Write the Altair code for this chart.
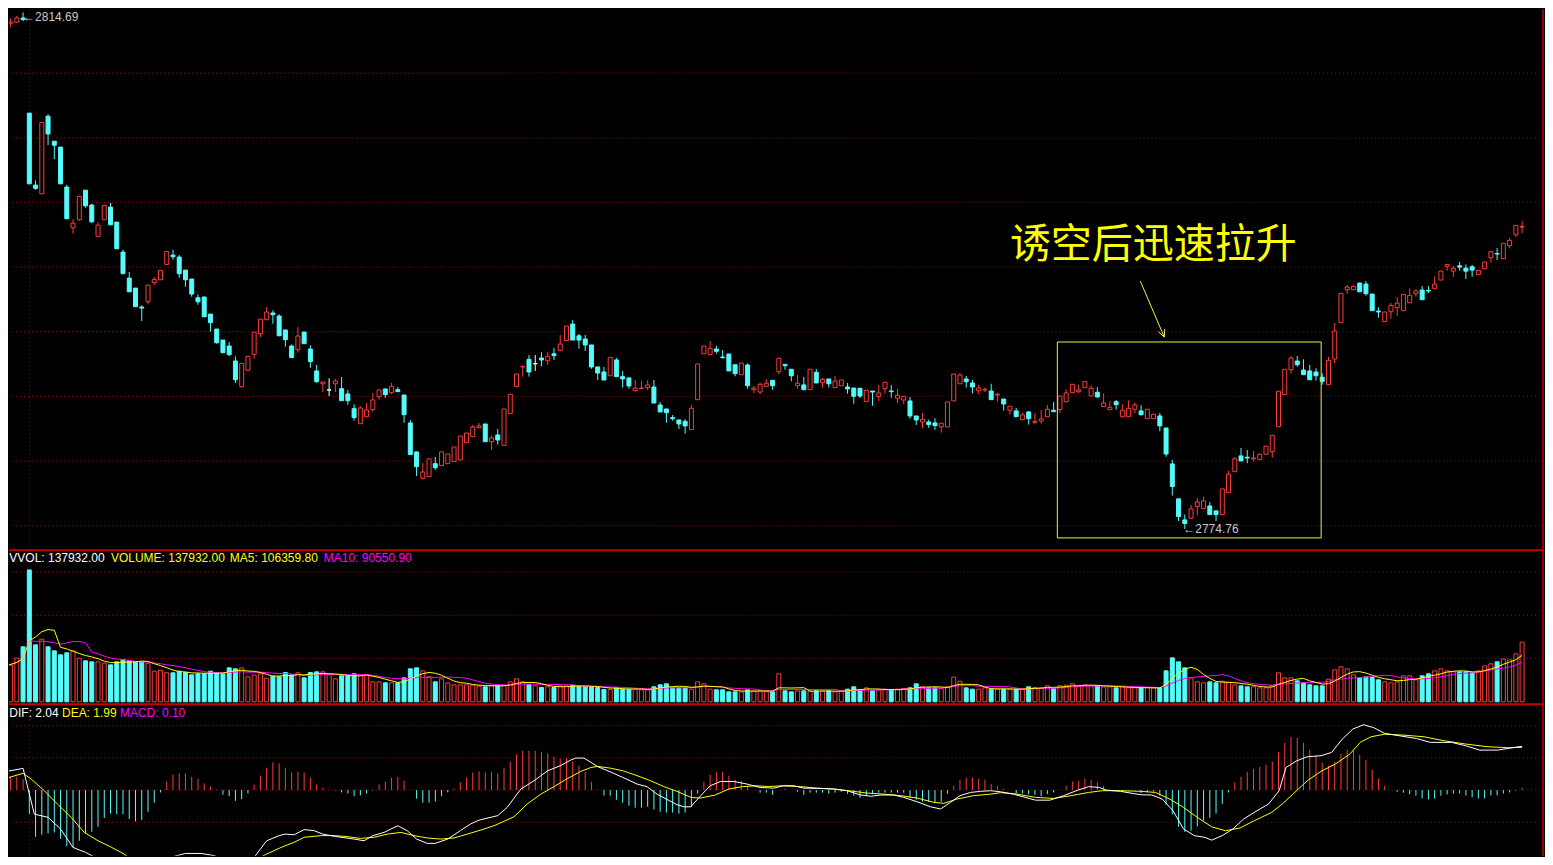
import altair as alt
import pandas as pd

# ---------------- data ----------------
OPEN = [
    2813.30, 2813.86, 2813.94, 2814.27, 2806.91, 2801.34, 2800.67, 2806.67, 2804.74, 2804.28,
    2801.19, 2798.04, 2798.66, 2800.95, 2799.80, 2797.38, 2798.66, 2799.64, 2798.48, 2796.16,
    2794.15, 2793.38, 2791.91, 2792.32, 2793.79, 2794.02, 2795.21, 2795.93, 2795.78, 2794.77,
    2794.08, 2792.63, 2792.69, 2791.37, 2790.21, 2789.36, 2788.90, 2787.74, 2785.75, 2787.02,
    2788.26, 2789.85, 2790.93, 2791.45, 2791.22, 2790.14, 2788.90, 2788.61, 2789.98, 2788.67,
    2786.97, 2785.98, 2785.50, 2785.98, 2785.60, 2785.19, 2784.05, 2782.89, 2783.43, 2783.98,
    2784.98, 2785.58, 2785.29, 2785.52, 2785.11, 2782.95, 2780.71, 2778.67, 2778.80, 2779.80,
    2779.65, 2779.80, 2779.96, 2780.09, 2781.43, 2781.89, 2782.58, 2782.87, 2781.50, 2782.02,
    2781.22, 2783.67, 2785.75, 2787.28, 2787.87, 2787.53, 2787.97, 2787.76, 2788.30, 2788.54,
    2789.31, 2790.60, 2789.69, 2789.44, 2788.98, 2787.28, 2786.89, 2786.60, 2787.82, 2786.53,
    2786.43, 2785.44, 2785.60, 2785.68, 2785.73, 2784.34, 2784.03, 2783.36, 2783.18, 2783.08,
    2782.43, 2784.75, 2788.30, 2788.23, 2788.67, 2788.05, 2788.28, 2787.45, 2786.68, 2787.43,
    2785.52, 2785.34, 2785.78, 2786.25, 2786.91, 2787.48, 2787.10, 2785.83, 2785.89, 2785.52,
    2786.87, 2786.06, 2786.35, 2785.68, 2785.83, 2785.73, 2785.65, 2785.63, 2784.59, 2785.42,
    2784.98, 2785.60, 2785.42, 2784.86, 2784.72, 2784.65, 2783.49, 2783.02, 2783.02, 2782.95,
    2782.64, 2782.64, 2784.65, 2785.98, 2786.35, 2786.04, 2785.44, 2785.50, 2785.42, 2785.11,
    2784.80, 2783.93, 2783.88, 2783.20, 2783.80, 2783.00, 2783.10, 2783.43, 2783.93, 2783.98,
    2784.59, 2785.29, 2785.37, 2785.68, 2785.03, 2785.32, 2784.21, 2783.98, 2784.59, 2783.43,
    2783.43, 2784.01, 2783.88, 2783.28, 2783.28, 2783.49, 2782.56, 2779.78, 2777.08, 2775.45,
    2775.58, 2776.48, 2776.33, 2776.53, 2776.15, 2775.86, 2777.56, 2779.18, 2780.40, 2780.30,
    2780.17, 2780.11, 2780.53, 2780.73, 2782.66, 2785.14, 2787.07, 2787.74, 2787.04, 2786.97,
    2786.89, 2786.48, 2785.91, 2787.89, 2790.70, 2793.25, 2793.25, 2793.77, 2793.69, 2792.92,
    2791.60, 2790.78, 2791.55, 2791.86, 2791.63, 2792.24, 2792.94, 2793.23, 2793.20, 2793.33,
    2794.00, 2795.06, 2794.69, 2795.10, 2794.92, 2795.03, 2794.41, 2794.87, 2795.72, 2796.05,
    2795.65, 2796.65, 2797.50, 2798.09,
]

CLOSE = [
    2813.86, 2813.96, 2814.27, 2814.15, 2801.44, 2801.09, 2806.19, 2805.30, 2804.43, 2801.44,
    2798.74, 2798.40, 2800.47, 2799.74, 2798.50, 2798.25, 2799.77, 2798.27, 2796.42, 2794.49,
    2793.09, 2791.94, 2791.83, 2793.61, 2794.05, 2794.75, 2796.22, 2795.80, 2794.49, 2794.02,
    2792.92, 2792.32, 2791.16, 2790.70, 2789.15, 2788.38, 2788.23, 2786.29, 2787.56, 2788.10,
    2789.96, 2790.98, 2791.53, 2791.32, 2789.69, 2789.39, 2788.00, 2789.67, 2789.08, 2787.69,
    2786.14, 2786.12, 2785.50, 2786.19, 2784.67, 2784.67, 2783.36, 2784.11, 2783.95, 2784.73,
    2785.50, 2785.14, 2785.78, 2785.37, 2783.59, 2780.50, 2779.57, 2779.16, 2780.17, 2779.49,
    2780.71, 2780.55, 2781.09, 2781.94, 2782.17, 2782.64, 2782.72, 2781.50, 2781.79, 2781.63,
    2784.03, 2785.17, 2786.73, 2787.33, 2786.89, 2787.53, 2787.82, 2788.10, 2788.15, 2789.05,
    2790.44, 2789.36, 2789.36, 2788.98, 2787.28, 2786.81, 2786.27, 2788.02, 2786.53, 2786.35,
    2785.81, 2785.65, 2785.65, 2785.89, 2784.49, 2783.80, 2783.74, 2783.28, 2782.87, 2782.72,
    2784.08, 2787.51, 2788.90, 2788.72, 2788.49, 2788.00, 2786.97, 2786.76, 2787.58, 2785.83,
    2785.65, 2785.94, 2786.02, 2785.83, 2787.95, 2787.38, 2786.60, 2786.02, 2785.52, 2787.10,
    2786.04, 2786.32, 2785.98, 2786.19, 2786.27, 2785.58, 2785.01, 2785.03, 2785.47, 2785.34,
    2785.27, 2786.09, 2785.37, 2785.09, 2785.01, 2783.49, 2783.18, 2783.23, 2782.82, 2782.74,
    2782.92, 2784.57, 2786.73, 2786.66, 2786.14, 2785.73, 2785.65, 2785.55, 2784.75, 2785.17,
    2784.42, 2784.24, 2783.43, 2783.57, 2783.28, 2783.08, 2783.26, 2784.01, 2783.82, 2785.03,
    2785.27, 2785.94, 2785.50, 2786.14, 2785.63, 2784.96, 2784.49, 2784.16, 2784.36, 2783.93,
    2784.08, 2784.34, 2783.59, 2784.01, 2783.62, 2782.72, 2780.55, 2778.03, 2775.71, 2775.17,
    2776.30, 2776.84, 2776.92, 2775.86, 2775.86, 2777.85, 2778.98, 2780.17, 2780.01, 2780.24,
    2780.24, 2780.53, 2781.15, 2781.99, 2785.40, 2787.10, 2787.97, 2787.45, 2786.68, 2786.29,
    2786.60, 2786.17, 2787.79, 2790.06, 2792.97, 2793.46, 2793.51, 2793.09, 2792.94, 2791.63,
    2791.53, 2791.53, 2792.04, 2792.22, 2792.89, 2792.82, 2793.15, 2792.48, 2793.15, 2793.69,
    2794.69, 2795.21, 2794.90, 2795.00, 2794.69, 2794.77, 2794.75, 2795.39, 2796.19, 2796.01,
    2796.84, 2797.07, 2798.23, 2798.15,
]

HIGH = [
    2814.09, 2814.25, 2814.42, 2814.69, 2806.91, 2801.70, 2806.19, 2806.83, 2804.74, 2804.28,
    2801.36, 2798.69, 2800.47, 2800.95, 2799.90, 2798.46, 2799.77, 2799.97, 2798.48, 2796.34,
    2794.62, 2793.38, 2792.04, 2793.61, 2794.23, 2794.75, 2796.22, 2796.34, 2795.93, 2794.77,
    2794.08, 2792.89, 2792.69, 2791.37, 2790.21, 2789.36, 2789.21, 2788.10, 2787.56, 2788.10,
    2789.96, 2790.98, 2791.91, 2791.66, 2791.35, 2790.14, 2789.03, 2790.37, 2789.98, 2788.95,
    2787.43, 2786.12, 2786.40, 2786.35, 2786.50, 2785.50, 2784.39, 2784.24, 2784.49, 2785.27,
    2785.50, 2785.58, 2786.04, 2785.73, 2785.11, 2783.18, 2780.71, 2779.86, 2780.17, 2780.32,
    2780.71, 2780.55, 2781.09, 2781.94, 2782.17, 2782.79, 2782.95, 2782.87, 2781.94, 2782.48,
    2784.03, 2785.17, 2786.73, 2787.33, 2788.20, 2788.20, 2788.41, 2788.43, 2788.74, 2789.75,
    2790.44, 2790.91, 2789.85, 2789.75, 2788.98, 2787.28, 2787.28, 2788.02, 2787.97, 2786.97,
    2786.43, 2786.27, 2786.19, 2786.25, 2786.27, 2784.57, 2784.03, 2783.57, 2783.18, 2783.23,
    2784.34, 2787.51, 2788.90, 2789.29, 2788.92, 2788.59, 2788.28, 2787.45, 2787.58, 2787.56,
    2785.81, 2786.06, 2786.32, 2786.25, 2787.95, 2787.48, 2787.10, 2786.66, 2786.50, 2787.10,
    2787.12, 2786.43, 2786.35, 2786.58, 2786.27, 2786.04, 2785.65, 2785.63, 2785.47, 2785.42,
    2785.89, 2786.09, 2785.89, 2785.58, 2785.01, 2784.96, 2783.49, 2783.72, 2783.20, 2783.31,
    2782.92, 2784.57, 2786.73, 2786.81, 2786.58, 2786.27, 2785.89, 2785.68, 2785.98, 2785.29,
    2784.80, 2784.24, 2784.11, 2783.74, 2783.88, 2783.72, 2783.95, 2784.34, 2784.57, 2785.03,
    2785.55, 2785.94, 2785.89, 2786.14, 2785.86, 2785.71, 2785.24, 2784.62, 2784.72, 2784.39,
    2784.70, 2784.52, 2784.32, 2784.01, 2783.62, 2783.72, 2782.56, 2780.09, 2777.08, 2775.86,
    2776.61, 2777.15, 2777.25, 2776.82, 2776.15, 2777.85, 2779.24, 2780.30, 2781.02, 2780.86,
    2780.78, 2780.53, 2781.15, 2781.99, 2785.40, 2787.10, 2788.13, 2788.13, 2787.87, 2787.43,
    2787.18, 2786.79, 2788.05, 2790.68, 2792.97, 2793.61, 2793.59, 2793.77, 2793.92, 2792.92,
    2791.89, 2791.53, 2792.22, 2792.69, 2792.89, 2793.36, 2793.28, 2793.54, 2793.54, 2794.28,
    2794.69, 2795.21, 2795.10, 2795.39, 2795.21, 2795.16, 2794.75, 2795.39, 2796.19, 2796.47,
    2796.84, 2797.27, 2798.23, 2798.56,
]

LOW = [
    2813.24, 2813.55, 2813.91, 2814.01, 2801.44, 2800.98, 2800.67, 2804.43, 2803.35, 2801.44,
    2798.74, 2797.58, 2798.58, 2799.59, 2798.43, 2797.38, 2798.66, 2798.27, 2796.42, 2794.49,
    2793.09, 2791.94, 2790.83, 2792.12, 2793.61, 2794.02, 2795.21, 2795.57, 2794.18, 2793.48,
    2792.71, 2792.09, 2791.16, 2790.00, 2789.08, 2788.38, 2788.13, 2786.04, 2785.68, 2787.02,
    2787.92, 2789.59, 2790.93, 2790.62, 2789.69, 2788.84, 2788.00, 2788.38, 2789.08, 2787.22,
    2786.06, 2785.34, 2785.03, 2785.34, 2784.67, 2784.36, 2783.13, 2782.89, 2783.43, 2783.82,
    2784.75, 2784.90, 2785.17, 2785.37, 2782.97, 2780.50, 2778.85, 2778.57, 2778.80, 2779.32,
    2779.65, 2779.80, 2779.96, 2780.09, 2781.43, 2781.89, 2782.58, 2781.50, 2780.88, 2781.27,
    2781.22, 2783.67, 2785.75, 2786.53, 2786.53, 2786.97, 2787.33, 2787.43, 2787.82, 2788.54,
    2789.31, 2789.36, 2788.69, 2788.51, 2787.14, 2786.27, 2786.27, 2786.60, 2786.53, 2785.68,
    2785.60, 2785.44, 2785.60, 2785.50, 2784.49, 2783.80, 2782.97, 2783.13, 2782.48, 2782.12,
    2782.43, 2784.75, 2788.30, 2788.23, 2788.30, 2787.92, 2786.97, 2786.56, 2786.68, 2785.60,
    2785.24, 2785.17, 2785.78, 2785.52, 2786.71, 2787.07, 2786.17, 2785.60, 2785.52, 2785.52,
    2786.04, 2785.68, 2785.68, 2785.68, 2785.83, 2785.21, 2784.44, 2784.88, 2784.59, 2784.28,
    2784.65, 2785.21, 2784.90, 2784.49, 2784.42, 2783.28, 2782.79, 2782.54, 2782.58, 2782.41,
    2782.20, 2782.64, 2784.65, 2785.98, 2785.68, 2785.24, 2785.17, 2785.34, 2784.75, 2784.59,
    2783.90, 2783.59, 2783.43, 2783.20, 2782.82, 2782.87, 2782.89, 2783.43, 2783.82, 2783.74,
    2784.59, 2785.29, 2785.24, 2785.68, 2785.03, 2784.88, 2784.21, 2783.98, 2783.98, 2783.43,
    2783.43, 2783.70, 2783.51, 2783.28, 2783.28, 2782.31, 2780.34, 2777.33, 2775.37, 2774.76,
    2775.58, 2775.81, 2776.33, 2775.86, 2775.37, 2775.86, 2777.56, 2779.18, 2780.01, 2779.83,
    2779.96, 2780.11, 2780.53, 2780.27, 2782.66, 2785.14, 2786.76, 2787.30, 2786.68, 2786.29,
    2786.22, 2785.91, 2785.91, 2787.58, 2790.70, 2792.94, 2793.25, 2793.09, 2792.79, 2791.63,
    2791.09, 2790.78, 2791.01, 2791.22, 2791.63, 2792.24, 2792.71, 2792.48, 2793.00, 2793.33,
    2794.00, 2794.72, 2794.25, 2794.72, 2794.08, 2794.25, 2794.41, 2794.87, 2795.34, 2795.55,
    2795.65, 2796.45, 2797.35, 2797.63,
]

VOLUME = [
    87800, 84700, 100900, 127100, 304900, 131700, 144800, 127100, 117800, 108600,
    113200, 117800, 100900, 94700, 92400, 92400, 89300, 85500, 92400, 97800,
    94700, 92400, 93200, 89300, 70800, 73200, 67000, 67000, 70800, 67800,
    62400, 64700, 64700, 70800, 67800, 64700, 78500, 76200, 78500, 57800,
    61600, 64700, 54700, 59300, 57800, 67800, 62400, 67000, 55400, 67800,
    69300, 69300, 62400, 53100, 60100, 60100, 64700, 62400, 62400, 46200,
    46200, 43900, 43900, 43900, 55400, 76200, 78500, 71600, 57800, 46200,
    53100, 43900, 39300, 39300, 39300, 38500, 36200, 34700, 37000, 38500,
    38500, 46200, 53100, 46200, 40000, 37000, 33100, 34700, 33100, 37000,
    37000, 38500, 36200, 34700, 34700, 33100, 28500, 28500, 32300, 29300,
    29300, 29300, 27700, 27700, 34700, 39300, 41600, 32300, 32300, 32300,
    29300, 46200, 41600, 29300, 27700, 27700, 23100, 23100, 23100, 27700,
    25400, 25400, 23100, 23100, 64700, 25400, 23100, 25400, 25400, 24600,
    25400, 24600, 25400, 23100, 24600, 29300, 34700, 27700, 32300, 25400,
    27700, 29300, 27700, 29300, 30800, 32300, 41600, 34700, 32300, 32300,
    30800, 34700, 57000, 47700, 32300, 29300, 29300, 32300, 29300, 29300,
    29300, 29300, 29300, 29300, 34700, 33100, 32300, 37000, 30800, 37000,
    38500, 41600, 37000, 38500, 37000, 37000, 34700, 34700, 32300, 34700,
    32300, 32300, 32300, 32300, 32300, 32300, 71600, 101600, 92400, 78500,
    55400, 46200, 43900, 46200, 43900, 47700, 44700, 39300, 37000, 34700,
    34700, 32300, 32300, 37000, 67000, 55400, 55400, 48500, 43900, 39300,
    37000, 37000, 52400, 73900, 80900, 76200, 62400, 55400, 57800, 56200,
    50800, 46200, 43900, 46200, 60100, 60100, 50800, 60100, 64700, 71600,
    76200, 71600, 69300, 69300, 69300, 67000, 71600, 83200, 87800, 92400,
    99300, 97000, 110900, 137932,
]

MACD_BAR = [
    0.54, 0.62, 0.62, 0.51, -1.12, -2.17, -2.08, -2.02, -1.97, -2.26,
    -2.62, -2.67, -2.36, -2.02, -1.94, -1.71, -1.30, -1.09, -1.12, -1.12,
    -1.35, -1.46, -1.40, -1.01, -0.59, -0.11, 0.40, 0.73, 0.78, 0.78,
    0.62, 0.53, 0.31, 0.16, 0.02, -0.22, -0.29, -0.50, -0.42, -0.16,
    0.26, 0.67, 1.04, 1.29, 1.24, 1.04, 0.82, 0.85, 0.82, 0.57,
    0.26, 0.11, 0.02, -0.02, -0.11, -0.16, -0.29, -0.25, -0.16, -0.02,
    0.26, 0.39, 0.57, 0.62, 0.43, 0.00, -0.40, -0.59, -0.59, -0.53,
    -0.29, -0.11, 0.06, 0.36, 0.57, 0.82, 0.88, 0.82, 0.85, 0.78,
    1.04, 1.32, 1.66, 1.83, 1.83, 1.83, 1.78, 1.71, 1.55, 1.46,
    1.50, 1.32, 1.13, 0.85, 0.39, 0.02, -0.26, -0.26, -0.45, -0.59,
    -0.73, -0.82, -0.82, -0.78, -0.91, -1.01, -1.05, -1.05, -1.10, -1.05,
    -0.78, -0.17, 0.39, 0.71, 0.85, 0.85, 0.67, 0.48, 0.43, 0.16,
    0.00, -0.12, -0.12, -0.22, 0.00, 0.06, 0.00, -0.08, -0.22, -0.12,
    -0.12, -0.12, -0.17, -0.12, -0.08, -0.17, -0.26, -0.36, -0.26, -0.17,
    -0.12, -0.12, -0.12, -0.12, -0.12, -0.36, -0.45, -0.54, -0.54, -0.59,
    -0.54, -0.17, 0.20, 0.48, 0.57, 0.57, 0.53, 0.48, 0.29, 0.20,
    0.06, 0.00, -0.16, -0.16, -0.20, -0.22, -0.28, -0.19, -0.11, 0.00,
    0.20, 0.39, 0.43, 0.53, 0.48, 0.36, 0.20, 0.02, -0.02, -0.08,
    -0.03, -0.02, -0.15, -0.11, -0.06, -0.26, -0.68, -1.13, -1.71, -1.95,
    -1.89, -1.69, -1.41, -1.29, -1.09, -0.64, -0.11, 0.36, 0.62, 0.85,
    0.99, 1.08, 1.18, 1.32, 1.78, 2.20, 2.48, 2.43, 2.20, 1.88,
    1.60, 1.27, 1.13, 1.32, 1.69, 1.88, 1.88, 1.64, 1.41, 0.95,
    0.53, 0.20, 0.00, -0.08, -0.12, -0.20, -0.26, -0.39, -0.43, -0.40,
    -0.26, -0.20, -0.16, -0.16, -0.26, -0.34, -0.39, -0.39, -0.25, -0.25,
    -0.16, -0.11, -0.03, 0.10,
]

DIF_AT = [-0.5, 3, 4.8, 7, 9, 11, 13, 15, 17, 19, 21, 23, 25, 26, 27, 29, 31.5, 33.6, 37, 38.4,
          40, 42, 44, 45, 46.4, 48, 49.6, 51, 53, 56, 57.6, 59, 60.8, 63, 64.5, 66, 67.7, 69, 71, 73,
          74.7, 76, 79, 80.5, 82.7, 84.8, 87, 89, 90.7, 91.5, 92.8, 93.9, 95, 97, 99, 101.3, 102.9,
          104.5, 106, 107.7, 108.8, 109.9, 111.5, 113, 114.7, 116.8, 118.9, 121, 123.2, 124.7, 126.4,
          128, 130.1, 132.8, 134.9, 137, 138.7, 140.3, 142.4, 144, 146.1, 148.3, 149.9, 151.5, 153,
          154.7, 156.3, 157.9, 159.5, 161.7, 165.1, 167.4, 169.6, 171.9, 173.6, 175.3, 176.4, 178.7,
          182, 183.7, 185.4, 187.1, 188.8, 190.5, 192.2, 193.3, 195, 196.7, 198.4, 200.1, 202.4, 204.1,
          205.2, 206.9, 208.6, 210.8, 212.5, 214.2, 215.9, 217.6, 219.2, 221, 223.3, 226.1, 228.3,
          231.7, 234, 236.2, 239.1, 240.8, 243]
DIF = [0.82, 1.01, -1.12, -1.27, -1.81, -2.67, -2.90, -3.20, -3.16, -3.36, -3.75, -3.95, -3.75, -3.44,
       -3.10, -2.95, -2.95, -3.05, -3.44, -3.47, -3.13, -2.36, -2.12, -2.05, -2.08, -1.84, -1.89, -2.05,
       -2.16, -2.28, -2.36, -2.12, -1.97, -1.66, -1.89, -2.28, -2.48, -2.48, -2.28, -1.89, -1.57, -1.40,
       -1.19, -0.81, 0.05, 0.43, 0.90, 1.13, 1.40, 1.49, 1.49, 1.29, 1.09, 0.85, 0.59, 0.28, 0.16,
       -0.19, -0.42, -0.68, -0.78, -0.78, -0.26, 0.20, 0.40, 0.40, 0.28, 0.12, 0.09, 0.20, 0.20, 0.09,
       0.08, 0.05, -0.03, -0.22, -0.29, -0.23, -0.23, -0.34, -0.54, -0.78, -0.88, -0.57, -0.26, -0.11,
       -0.06, -0.03, -0.08, -0.20, -0.47, -0.47, -0.26, 0.00, 0.16, 0.12, 0.00, -0.06, -0.22, -0.23,
       -0.42, -0.96, -1.81, -2.12, -2.20, -2.33, -2.12, -1.81, -1.35, -1.04, -0.65, -0.03, 1.05, 1.36,
       1.55, 1.60, 1.75, 2.37, 2.84, 3.04, 2.91, 2.64, 2.53, 2.40, 2.22, 2.22, 2.06, 1.86, 1.86, 1.94,
       2.04]

DEA_AT = [-0.5, 3, 4.3, 6.4, 8.5, 10.7, 12.8, 15, 17, 19, 21, 22.4, 24.5, 27.2, 29.3, 31.5, 33.6,
          35.7, 37.9, 40, 42, 44.3, 46.4, 48, 50.7, 52.8, 55, 57, 59.2, 61.3, 63.5, 65.6, 67.7, 69.9,
          72, 74.1, 76.3, 78.4, 79.5, 81.6, 83.7, 85.9, 88, 90, 92.3, 93.9, 95, 97, 99, 101.3, 103.5,
          105.6, 107.7, 109.9, 111.5, 113.8, 116, 118.2, 120.3, 122.4, 124.5, 127.5, 130.1, 132.8, 136,
          138.1, 140.8, 143.5, 146.1, 148.8, 150.4, 152.5, 155.2, 157.9, 159.5, 161.7, 165.1, 168,
          170.8, 173.6, 175.8, 178.7, 182, 184.3, 186.6, 188.8, 191, 193.3, 195.5, 197.8, 200.1, 202.9,
          204.6, 206.3, 208.6, 210.8, 213.1, 215.4, 217.1, 218.8, 221, 223.9, 227.3, 230.6, 234, 237.4,
          240.8, 243]
DEA = [0.48, 0.78, 0.51, -0.03, -0.65, -1.27, -1.97, -2.36, -2.64, -2.95, -3.36, -3.52, -3.65, -3.47,
       -3.26, -3.13, -3.10, -3.19, -3.29, -3.26, -2.98, -2.67, -2.43, -2.20, -2.12, -2.12, -2.17, -2.25,
       -2.20, -2.05, -1.97, -2.12, -2.23, -2.28, -2.23, -2.05, -1.86, -1.66, -1.52, -1.24, -0.65, -0.19,
       0.16, 0.51, 0.87, 1.05, 1.10, 1.02, 0.90, 0.67, 0.43, 0.16, -0.06, -0.34, -0.37, -0.23, 0.05,
       0.16, 0.20, 0.16, 0.20, 0.16, 0.09, 0.05, -0.06, -0.14, -0.19, -0.26, -0.37, -0.57, -0.62, -0.42,
       -0.26, -0.19, -0.12, -0.17, -0.34, -0.39, -0.26, -0.11, -0.03, -0.03, -0.06, -0.11, -0.42, -0.81,
       -1.27, -1.71, -1.89, -1.77, -1.43, -1.04, -0.65, -0.19, 0.43, 0.87, 1.21, 1.67, 2.22, 2.48, 2.60,
       2.56, 2.48, 2.29, 2.14, 2.02, 1.97, 1.99]

PRICE_GRID = [2810, 2805, 2800, 2795, 2790, 2785, 2780, 2775]
VOLUME_GRID = [100000, 200000, 300000]
MACD_GRID = [3.0, 1.5, 0.0, -1.5]

ANNOTATION = "诱空后迅速拉升"
HIGH_LABEL = "←2814.69"
LOW_LABEL = "←2774.76"
VOL_HEADER = ["VVOL: 137932.00", "VOLUME: 137932.00", "MA5: 106359.80", "MA10: 90550.90"]
MACD_HEADER = ["DIF: 2.04", "DEA: 1.99", "MACD: 0.10"]

# ---------------- styling ----------------
RED, CYAN, WHITE = "#ff3b3b", "#54fcfc", "#ffffff"
YELLOW, MAGENTA = "#ffff00", "#ff00ff"
GRID_RED, LINE_RED, GREY = "#a00000", "#c80000", "#c8c8c8"
FONT = "Liberation Sans"

W = 1536
H_MAIN, H_VOL, H_MACD = 541, 154, 152
XS = alt.Scale(domain=[0.7472, 246.507], nice=False, zero=False)
PS = alt.Scale(domain=[2773.13, 2814.94], nice=False, zero=False)
VS = alt.Scale(domain=[-4620, 351120], nice=False, zero=False)
MS = alt.Scale(domain=[-3.056, 4.014], nice=False, zero=False)
DIRS = ["up", "down", "flat"]

direction = ["up" if c > o else ("down" if c < o else "flat") for o, c in zip(OPEN, CLOSE)]
bars = pd.DataFrame({
    "i": list(range(len(OPEN))), "open": OPEN, "high": HIGH, "low": LOW, "close": CLOSE,
    "vol": VOLUME, "macd": MACD_BAR, "dir": direction,
    "vdir": ["down" if d == "down" else "up" for d in direction],
    "mdir": ["pos" if m >= 0 else "neg" for m in MACD_BAR],
})


def X(field):
    return alt.X(field, type="quantitative", scale=XS, axis=None)


def hgrid(values, scale):
    return alt.Chart(pd.DataFrame({"v": values})).mark_rule(
        color=GRID_RED, strokeWidth=1, strokeDash=[1, 3]
    ).encode(y=alt.Y("v:Q", scale=scale, axis=None))


def verticals():
    mark = alt.Chart(pd.DataFrame({"i": [4.06]})).mark_rule(
        color=GRID_RED, strokeWidth=1, strokeDash=[1, 3]).encode(x=X("i"))
    axis = alt.Chart(pd.DataFrame({"i": [246.35]})).mark_rule(
        color=LINE_RED, strokeWidth=1.5).encode(x=X("i"))
    return [mark, axis]


def top_line(value, scale):
    return alt.Chart(pd.DataFrame({"v": [value]})).mark_rule(
        color=LINE_RED, strokeWidth=2).encode(y=alt.Y("v:Q", scale=scale, axis=None))


def label(text, i, v, scale, color, size=12, font=FONT, align="left"):
    return alt.Chart(pd.DataFrame({"i": [i], "v": [v], "t": [text]})).mark_text(
        align=align, baseline="middle", font=font, fontSize=size, color=color
    ).encode(x=X("i"), y=alt.Y("v:Q", scale=scale, axis=None), text="t:N")


# ---------------- main candle panel ----------------
base = alt.Chart(bars)
wicks = base.mark_rule(strokeWidth=1, clip=True).encode(
    x=X("i"), y=alt.Y("low:Q", scale=PS, axis=None), y2="high:Q",
    color=alt.Color("dir:N", scale=alt.Scale(domain=DIRS, range=[RED, CYAN, WHITE]), legend=None),
)
bodies = base.transform_calculate(xa="datum.i - 0.32", xb="datum.i + 0.32").mark_rect(
    strokeWidth=1, clip=True
).encode(
    x=X("xa"), x2="xb:Q",
    y=alt.Y("open:Q", scale=PS, axis=None), y2="close:Q",
    fill=alt.Fill("dir:N", scale=alt.Scale(domain=DIRS, range=["#000000", CYAN, WHITE]), legend=None),
    stroke=alt.Stroke("dir:N", scale=alt.Scale(domain=DIRS, range=[RED, CYAN, WHITE]), legend=None),
)

box = alt.Chart(pd.DataFrame({"a": [168.59], "b": [210.83], "p": [2789.21], "q": [2774.06]})).mark_rect(
    fillOpacity=0, stroke="#f2f23c", strokeWidth=1
).encode(x=X("a"), x2="b:Q", y=alt.Y("p:Q", scale=PS, axis=None), y2="q:Q")

arrow = alt.Chart(pd.DataFrame({
    "a": [181.87, 185.71, 185.71], "p": [2793.92, 2789.59, 2789.59],
    "b": [185.71, 185.77, 184.76], "q": [2789.59, 2790.21, 2790.01],
})).mark_rule(color="#f2f23c", strokeWidth=1).encode(
    x=X("a"), x2="b:Q", y=alt.Y("p:Q", scale=PS, axis=None), y2="q:Q")

main = alt.layer(
    hgrid(PRICE_GRID, PS), *verticals(), wicks, bodies, box, arrow,
    label(HIGH_LABEL, 3.0, 2814.32, PS, GREY),
    label(LOW_LABEL, 188.75, 2774.72, PS, GREY),
    label(ANNOTATION, 183.95, 2796.63, PS, YELLOW, size=41, font="Noto Sans CJK SC", align="center"),
).properties(width=W, height=H_MAIN)

# ---------------- volume panel ----------------
vbars = base.transform_calculate(xa="datum.i - 0.32", xb="datum.i + 0.32").mark_rect(
    strokeWidth=1, clip=True
).encode(
    x=X("xa"), x2="xb:Q",
    y=alt.Y("vol:Q", scale=VS, axis=None), y2=alt.datum(0),
    fill=alt.Fill("vdir:N", scale=alt.Scale(domain=["up", "down"], range=["#000000", CYAN]), legend=None),
    stroke=alt.Stroke("vdir:N", scale=alt.Scale(domain=["up", "down"], range=[RED, CYAN]), legend=None),
)
ma = base.transform_window(
    ma5="mean(vol)", frame=[-4, 0], sort=[alt.SortField("i")]
).transform_window(
    ma10="mean(vol)", frame=[-9, 0], sort=[alt.SortField("i")]
)
ma10 = ma.mark_line(color=MAGENTA, strokeWidth=1, clip=True).encode(
    x=X("i"), y=alt.Y("ma10:Q", scale=VS, axis=None))
ma5 = ma.mark_line(color=YELLOW, strokeWidth=1, clip=True).encode(
    x=X("i"), y=alt.Y("ma5:Q", scale=VS, axis=None))

vol_y = 332640
volume = alt.layer(
    hgrid(VOLUME_GRID, VS), *verticals(), vbars, ma10, ma5, top_line(350500, VS),
    label(VOL_HEADER[0], 0.8, vol_y, VS, WHITE),
    label(VOL_HEADER[1], 17.07, vol_y, VS, YELLOW),
    label(VOL_HEADER[2], 36.11, vol_y, VS, YELLOW),
    label(VOL_HEADER[3], 51.15, vol_y, VS, MAGENTA),
).properties(width=W, height=H_VOL)

# ---------------- MACD panel ----------------
hist = base.mark_rule(strokeWidth=1, clip=True).encode(
    x=X("i"), y=alt.Y("macd:Q", scale=MS, axis=None), y2=alt.datum(0),
    color=alt.Color("mdir:N", scale=alt.Scale(domain=["pos", "neg"], range=[RED, CYAN]), legend=None),
)
dif = alt.Chart(pd.DataFrame({"i": DIF_AT, "v": DIF})).mark_line(
    color=WHITE, strokeWidth=1, clip=True).encode(x=X("i"), y=alt.Y("v:Q", scale=MS, axis=None))
dea = alt.Chart(pd.DataFrame({"i": DEA_AT, "v": DEA})).mark_line(
    color=YELLOW, strokeWidth=1, clip=True).encode(x=X("i"), y=alt.Y("v:Q", scale=MS, axis=None))

macd_y = 3.595
macd = alt.layer(
    hgrid(MACD_GRID, MS), *verticals(), hist, dea, dif, top_line(3.99, MS),
    label(MACD_HEADER[0], 0.8, macd_y, MS, WHITE),
    label(MACD_HEADER[1], 9.23, macd_y, MS, YELLOW),
    label(MACD_HEADER[2], 18.51, macd_y, MS, MAGENTA),
).properties(width=W, height=H_MACD)

chart = alt.vconcat(main, volume, macd, spacing=0, bounds="flush").properties(
    padding=0, background="#000000"
).configure_view(stroke=None).configure_concat(spacing=0)

chart.save("out.html", embed_options={"renderer": "svg", "actions": False})
